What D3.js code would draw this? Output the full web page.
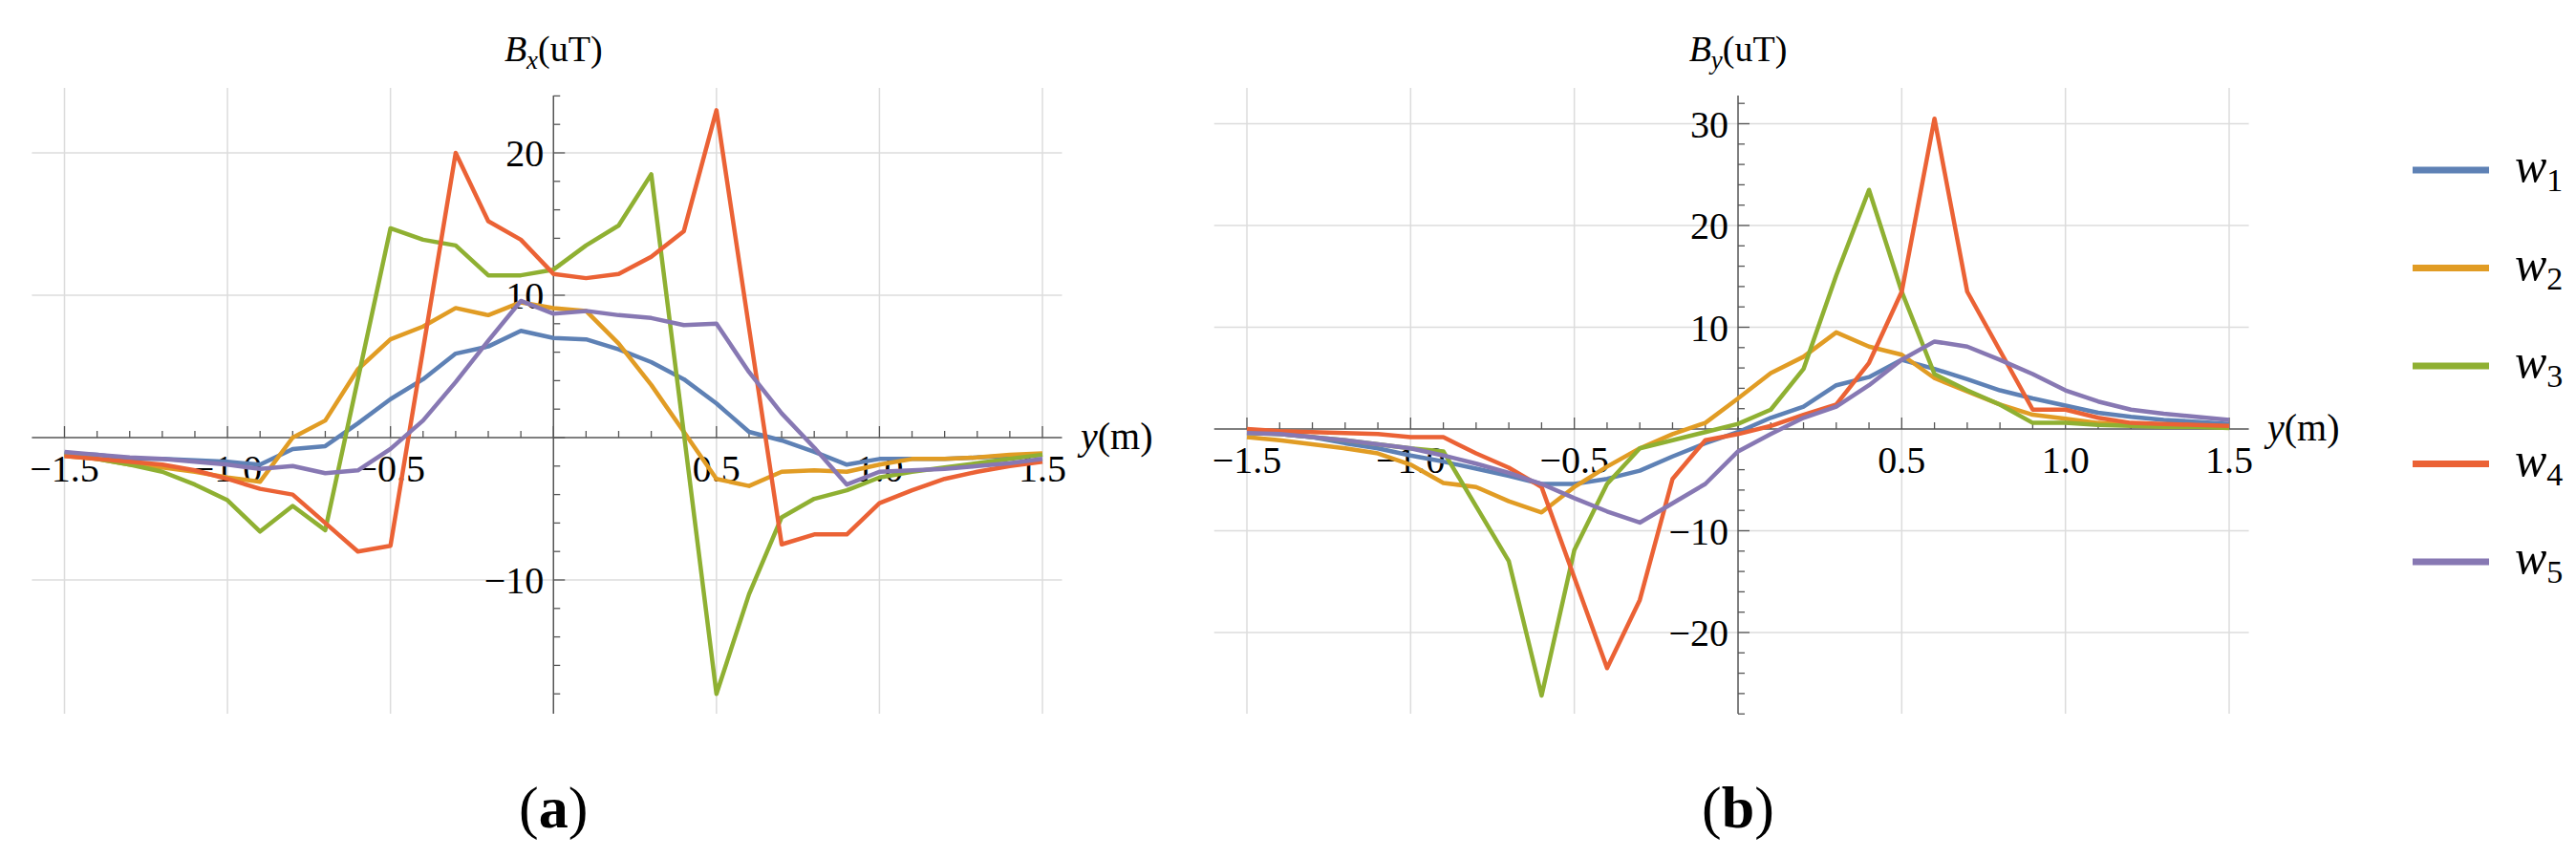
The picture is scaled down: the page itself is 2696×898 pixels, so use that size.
<!DOCTYPE html>
<html><head><meta charset="utf-8">
<script src="https://cdn.jsdelivr.net/npm/d3@7"></script>
<style>body{margin:0;background:#fff}svg{display:block}text{font-family:"Liberation Serif",serif}</style>
</head><body><svg id="c" width="2696" height="898"></svg>
<script>
// positions y (m)
var ys = d3.range(31).map(function(i){ return -1.5 + i * 0.1; });
var names = ["1","2","3","4","5"];
var colors = ["#5E81B5","#E19C24","#8FB032","#EB6235","#8778B3"];

// Bx (uT)
var bx1 = [-1.1,-1.2,-1.5,-1.5,-1.6,-1.7,-1.9,-0.8,-0.6,1.0,2.7,4.1,5.9,6.4,7.5,7.0,6.9,6.2,5.3,4.1,2.4,0.4,-0.2,-1.0,-1.9,-1.5,-1.5,-1.5,-1.4,-1.3,-1.2];
var bx2 = [-1.3,-1.5,-1.9,-2.1,-2.4,-2.8,-3.1,0,1.2,4.8,6.9,7.8,9.1,8.6,9.5,9.1,8.9,6.6,3.7,0.4,-2.9,-3.4,-2.4,-2.3,-2.4,-1.9,-1.5,-1.5,-1.4,-1.2,-1.1];
var bx3 = [-1.2,-1.5,-1.9,-2.4,-3.3,-4.4,-6.6,-4.8,-6.5,4.1,14.7,13.9,13.5,11.4,11.4,11.8,13.5,14.9,18.5,0.3,-18.0,-11.0,-5.6,-4.3,-3.7,-2.8,-2.4,-2.1,-1.8,-1.5,-1.2];
var bx4 = [-1.3,-1.5,-1.7,-1.9,-2.3,-2.9,-3.6,-4.0,-6.0,-8.0,-7.6,6.2,20.0,15.2,13.9,11.5,11.2,11.5,12.7,14.5,23.0,7.7,-7.5,-6.8,-6.8,-4.6,-3.7,-2.9,-2.4,-2.0,-1.7];
var bx5 = [-1.0,-1.2,-1.4,-1.5,-1.7,-1.9,-2.2,-2.0,-2.5,-2.3,-0.8,1.2,3.9,6.8,9.6,8.7,8.9,8.6,8.4,7.9,8.0,4.6,1.7,-0.7,-3.3,-2.4,-2.3,-2.2,-2.0,-1.8,-1.5];

// By (uT)
var by1 = [-0.3,-0.5,-0.8,-1.4,-1.9,-2.6,-3.2,-3.9,-4.6,-5.4,-5.4,-4.9,-4.1,-2.7,-1.4,-0.3,1.1,2.2,4.3,5.1,6.8,5.9,4.9,3.8,3.0,2.3,1.6,1.2,0.9,0.7,0.5];
var by2 = [-0.8,-1.1,-1.5,-1.9,-2.4,-3.5,-5.3,-5.7,-7.1,-8.2,-5.7,-3.7,-1.9,-0.5,0.6,3.0,5.5,7.1,9.5,8.1,7.3,5.0,3.7,2.4,1.4,1.0,0.6,0.4,0.3,0.3,0.2];
var by3 = [-0.4,-0.5,-0.8,-1.1,-1.5,-1.9,-2.2,-7.6,-13.0,-26.2,-11.9,-5.4,-1.9,-1.1,-0.3,0.5,1.9,5.9,15.1,23.5,13.5,5.4,3.8,2.4,0.6,0.6,0.4,0.3,0.2,0.2,0.1];
var by4 = [0,-0.2,-0.3,-0.4,-0.5,-0.8,-0.8,-2.4,-3.8,-5.7,-14.6,-23.5,-16.8,-4.9,-1.1,-0.5,0.3,1.4,2.4,6.5,13.5,30.5,13.5,7.7,1.9,1.9,1.1,0.6,0.5,0.4,0.3];
var by5 = [-0.4,-0.5,-0.8,-1.1,-1.5,-1.9,-2.6,-3.4,-4.3,-5.4,-6.8,-8.1,-9.2,-7.3,-5.4,-2.2,-0.5,1.1,2.2,4.3,6.8,8.6,8.1,6.8,5.4,3.8,2.7,1.9,1.5,1.2,0.9];

var xTicks = [-1.5,-1.0,-0.5,0.5,1.0,1.5];
var bxTicks = [-10,10,20];
var byTicks = [-20,-10,10,20,30];

var svg = d3.select("#c");

function panel(o) {
    var x = d3.scaleLinear().domain([-1.5,1.5]).range(o.xr);
    var y = d3.scaleLinear().domain([0,10]).range([o.y0, o.y0 - o.ten]);
    var g = svg.append("g");
    var top = 92, bot = 747;
    // grid
    xTicks.forEach(function(t){
        g.append("line").attr("x1",x(t)).attr("x2",x(t)).attr("y1",top).attr("y2",bot)
            .attr("stroke","#dcdcdc").attr("stroke-width",1.5);
    });
    o.yt.forEach(function(t){
        g.append("line").attr("x1",x(-1.6)).attr("x2",x(1.56)).attr("y1",y(t)).attr("y2",y(t))
            .attr("stroke","#dcdcdc").attr("stroke-width",1.5);
    });
    // axes
    g.append("line").attr("x1",x(-1.6)).attr("x2",x(1.56)).attr("y1",y(0)).attr("y2",y(0))
        .attr("stroke","#555").attr("stroke-width",1.5);
    g.append("line").attr("x1",x(0)).attr("x2",x(0)).attr("y1",top+8).attr("y2",bot)
        .attr("stroke","#555").attr("stroke-width",1.5);
    d3.range(-15,16).forEach(function(i){
        var t = i/10, big = (i % 5 === 0);
        g.append("line").attr("x1",x(t)).attr("x2",x(t)).attr("y1",y(0)).attr("y2",y(0)-(big?12:7))
            .attr("stroke","#555").attr("stroke-width",1.3);
    });
    d3.range(o.ymin, o.ymax+1, 2).forEach(function(v){
        var big = (v % 10 === 0);
        g.append("line").attr("x1",x(0)).attr("x2",x(0)+(big?12:7)).attr("y1",y(v)).attr("y2",y(v))
            .attr("stroke","#555").attr("stroke-width",1.3);
    });
    xTicks.forEach(function(t){
        g.append("text").attr("x",x(t)).attr("y",y(0)+46).attr("text-anchor","middle")
            .attr("font-size",40).text(d3.format(".1f")(t).replace("-","\u2212"));
    });
    o.yt.forEach(function(t){
        g.append("text").attr("x",x(0)-10).attr("y",y(t)+14).attr("text-anchor","end")
            .attr("font-size",40).text(String(t).replace("-","\u2212"));
    });
    var yl = g.append("text").attr("x",x(1.5)+40).attr("y",y(0)+12).attr("font-size",40);
    yl.append("tspan").attr("font-style","italic").text("y");
    yl.append("tspan").text("(m)");
    var tl = g.append("text").attr("x",x(0)).attr("y",64).attr("text-anchor","middle").attr("font-size",38);
    tl.append("tspan").attr("font-style","italic").text("B");
    tl.append("tspan").attr("font-style","italic").attr("font-size",27).attr("dy",8).text(o.sub);
    tl.append("tspan").attr("dy",-8).text("(uT)");
    var cap = g.append("text").attr("x",x(0)).attr("y",866).attr("text-anchor","middle").attr("font-size",62);
    cap.append("tspan").text("(");
    cap.append("tspan").attr("font-weight","bold").text(o.cap);
    cap.append("tspan").text(")");
    var line = d3.line().x(function(d,i){ return x(ys[i]); }).y(function(d){ return y(d); });
    o.series.forEach(function(s,k){
        g.append("path").attr("d",line(s)).attr("fill","none").attr("stroke",colors[k])
            .attr("stroke-width",4.5).attr("stroke-linejoin","round");
    });
}

panel({xr:[67.5,1091], y0:458, ten:149, yt:bxTicks, ymin:-18, ymax:24, sub:"x", cap:"a",
       series:[bx1,bx2,bx3,bx4,bx5]});
panel({xr:[1305,2333], y0:449, ten:106.5, yt:byTicks, ymin:-28, ymax:32, sub:"y", cap:"b",
       series:[by1,by2,by3,by4,by5]});

// legend
names.forEach(function(n,k){
    var ly = 178 + k*102.5;
    svg.append("line").attr("x1",2525).attr("x2",2605).attr("y1",ly).attr("y2",ly)
        .attr("stroke",colors[k]).attr("stroke-width",7);
    var t = svg.append("text").attr("x",2632).attr("y",ly+12).attr("font-size",50).attr("font-style","italic");
    t.append("tspan").text("w");
    t.append("tspan").attr("font-size",34).attr("dy",10).attr("font-style","normal").text(n);
});
</script></body></html>
